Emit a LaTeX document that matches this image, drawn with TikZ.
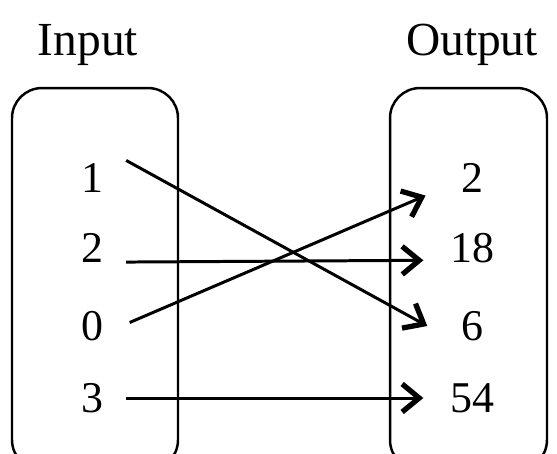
\documentclass[tikz,border=0pt]{standalone}
\usepackage{fontspec}
\setmainfont{Liberation Serif}
\usetikzlibrary{positioning,arrows.meta}

\begin{document}
\begin{tikzpicture}[
  x=0.02cm, y=-0.02cm,
  font=\fontsize{25}{29}\selectfont,
  setbox/.style={draw, line width=1.4pt, rounded corners=0.6cm, minimum height=7.64cm},
  val/.style={inner sep=8pt},
  arr/.style={line width=1.7pt, -{Straight Barb[length=3.4mm, width=5.6mm, line width=3pt]}}
]
  \useasboundingbox (0,0) rectangle (557,453);
  % sets
  \node[setbox, minimum width=3.32cm] (dom) at (95,279) {};
  \node[setbox, minimum width=3.14cm] (rng) at (468.5,279) {};
  \node[font=\fontsize{27}{31}\selectfont] (lin) at (88,45) {Input};
  \node[font=\fontsize{27}{31}\selectfont] (lout) at (472,45) {Output};
  % inputs
  \node[val] (in1) at (92,178) {1};
  \node[val] (in2) at (92,248) {2};
  \node[val] (in0) at (92,326) {0};
  \node[val] (in3) at (92,398) {3};
  % outputs
  \node[val] (out2) at (472,178) {2};
  \node[val] (out18) at (472,248) {18};
  \node[val] (out6) at (472,326) {6};
  \node[val] (out54) at (472,398) {54};

  \draw[arr] ([shift={(5pt,10pt)}]in1.east) -- ([shift={(-11pt,0pt)}]out6.west);
  \draw[arr] ([shift={(5pt,-8pt)}]in2.east) -- ([shift={(-7pt,-7pt)}]out18.west);
  \draw[arr] ([shift={(7pt,2pt)}]in0.east) -- ([shift={(-12pt,-10pt)}]out2.west);
  \draw[arr] ([shift={(5pt,0pt)}]in3.east) -- ([shift={(-7pt,0pt)}]out54.west);
\end{tikzpicture}
\end{document}
